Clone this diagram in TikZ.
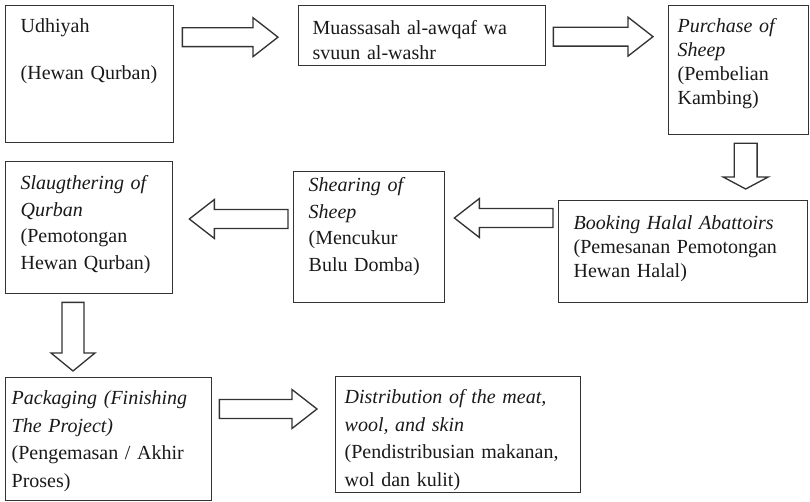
\documentclass[tikz,border=0pt]{standalone}
\usepackage{fontspec}
\setmainfont{Liberation Serif}
\usetikzlibrary{calc}

\tikzstyle{stepbox}=[draw=black!80, line width=1pt, anchor=north west, inner ysep=0pt, align=left, text=black!90]
\tikzstyle{hollow}=[draw=black!80, line width=1pt, fill=white, line join=miter]

% tail, tip, half shaft, half head, head length
\newcommand{\hollowarrow}[5]{%
  \path ($(#2)!#5!(#1)$) coordinate (hb);
  \draw[hollow] ($(#1)!#3!90:(#2)$) -- ($(hb)!#3!90:(#2)$) -- ($(hb)!#4!90:(#2)$) -- (#2)
    -- ($(hb)!#4!-90:(#2)$) -- ($(hb)!#3!-90:(#2)$) -- ($(#1)!#3!-90:(#2)$) -- cycle;}

\begin{document}
\begin{tikzpicture}[x=0.75pt, y=-0.75pt]
\useasboundingbox (0,0) rectangle (810,502);

\node[stepbox, inner xsep=11.25pt, text width=103.5pt, text height=20.25pt, text depth=82.5pt, font=\fontsize{15}{17.6}\selectfont](s1) at (5,5) {Udhiyah\\[17.6pt](Hewan Qurban)};
\node[stepbox, inner xsep=10.5pt, text width=164.25pt, text height=21.75pt, text depth=23.25pt, font=\fontsize{15}{18.75}\selectfont](s2) at (298,5) {Muassasah al-awqaf wa\\svuun al-washr};
\node[stepbox, inner xsep=6.75pt, text width=91.5pt, text height=20.25pt, text depth=76.5pt, font=\fontsize{15}{18}\selectfont](s3) at (668,5) {\textit{Purchase of}\\\textit{Sheep}\\(Pembelian\\Kambing)};
\node[stepbox, inner xsep=11.25pt, text width=164.25pt, text height=21.75pt, text depth=54.75pt, font=\fontsize{15}{18}\selectfont](s4) at (558,200) {\textit{Booking Halal Abattoirs}\\(Pemesanan Pemotongan\\Hewan Halal)};
\node[stepbox, inner xsep=11.25pt, text width=90.75pt, text height=15pt, text depth=83.25pt, font=\fontsize{15}{19.9}\selectfont](s5) at (293,171) {\textit{Shearing of}\\\textit{Sheep}\\(Mencukur\\Bulu Domba)};
\node[stepbox, inner xsep=11.25pt, text width=102.75pt, text height=21pt, text depth=78pt, font=\fontsize{15}{19.9}\selectfont](s6) at (5,161) {\textit{Slaugthering of}\\\textit{Qurban}\\(Pemotongan\\Hewan Qurban)};
\node[stepbox, inner xsep=4.5pt, text width=145.5pt, text height=20.25pt, text depth=72pt, font=\fontsize{15}{20.6}\selectfont](s7) at (5,377) {\textit{Packaging (Finishing}\\\textit{The Project)}\\(Pengemasan / Akhir\\Proses)};
\node[stepbox, inner xsep=6.75pt, text width=170.25pt, text height=20.25pt, text depth=66.75pt, font=\fontsize{15}{20.6}\selectfont](s8) at (335,376) {\textit{Distribution of the meat,}\\\textit{wool, and skin}\\(Pendistribusian makanan,\\wol dan kulit)};

\coordinate (a1s) at ($(s1.east |- s2.west)+(8,1.5)$);
\coordinate (a1e) at ($(s2.west)+(-20,1.5)$);
\coordinate (a2s) at ($(s2.east)+(7,1)$);
\coordinate (a2e) at ($(s3.west |- s2.east)+(-15,1)$);
\coordinate (a3s) at ($(s3.south)+(7,8)$);
\coordinate (a3e) at ($(s3.south |- s4.north)+(7,-11)$);
\coordinate (a4s) at ($(s4.north west)+(-5,18)$);
\coordinate (a4e) at ($(s5.north east)+(9,47)$);
\coordinate (a5s) at ($(s5.north west)+(-5,48)$);
\coordinate (a5e) at ($(s6.north east)+(16,58)$);
\coordinate (a6s) at ($(s6.south west)+(68,8)$);
\coordinate (a6e) at ($(s7.north west)+(68,-6)$);
\coordinate (a7s) at ($(s7.north east)+(7,32)$);
\coordinate (a7e) at ($(s8.north west)+(-18,33)$);

\hollowarrow{a1s}{a1e}{7.1pt}{14.6pt}{18.75pt}
\hollowarrow{a2s}{a2e}{7.1pt}{14.6pt}{18.75pt}
\hollowarrow{a3s}{a3e}{8.6pt}{16.9pt}{9pt}
\hollowarrow{a4s}{a4e}{7.1pt}{14.6pt}{18.75pt}
\hollowarrow{a5s}{a5e}{7.1pt}{14.6pt}{18.75pt}
\hollowarrow{a6s}{a6e}{8.25pt}{16.5pt}{13.5pt}
\hollowarrow{a7s}{a7e}{7.1pt}{14.6pt}{18.75pt}
\end{tikzpicture}
\end{document}
